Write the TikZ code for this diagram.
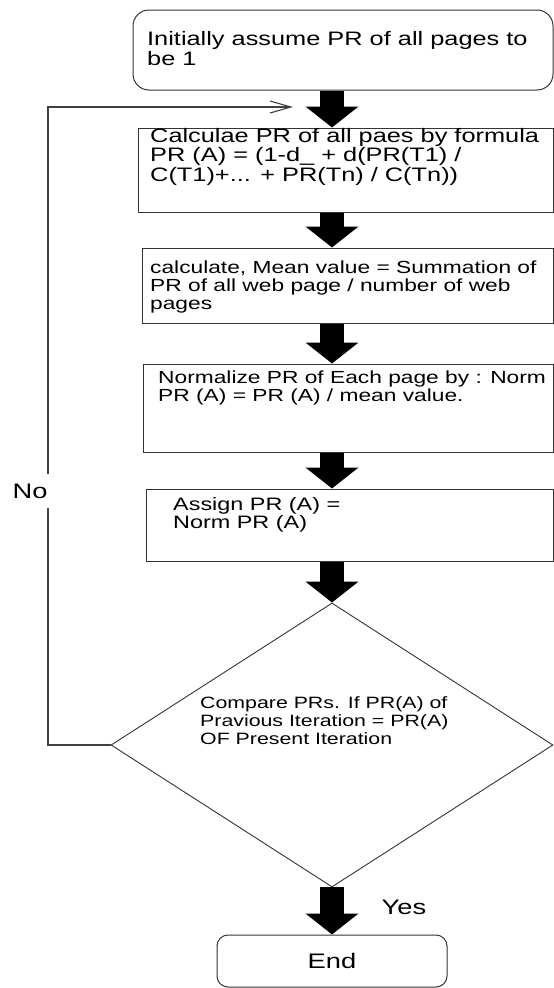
\documentclass[tikz,border=0pt]{standalone}
\usepackage{fontspec}
\setmainfont{Liberation Sans}[FakeStretch=1.3]
\usetikzlibrary{arrows.meta,shapes.geometric}

\tikzset{
	stepbox/.style={draw=black!80, line width=1pt, inner sep=0pt},
	startbox/.style={stepbox, rounded corners=16pt},
	decision/.style={diamond, draw=black!80, line width=0.9pt, inner sep=0pt, aspect=1.56},
	steptext/.style={anchor=base west, align=left, inner sep=0pt, text=black},
	lbl/.style={inner sep=0pt, text=black, font=\fontsize{21}{24}\selectfont},
	bigarrow/.style={black, line width=24pt, -{Triangle[width=52pt,length=21pt]}},
	loopline/.style={draw=black!75, line width=1.1pt, -{Straight Barb[length=21pt,width=12pt]}}
}

\begin{document}
\begin{tikzpicture}[x=1pt, y=-1pt]
			\useasboundingbox (0,0) rectangle (554,988);
			
			\node[startbox, minimum width=420pt, minimum height=80pt] (start) at (343,50) {};
			\node[stepbox, minimum width=415pt, minimum height=84pt] (calc) at (345.5,170) {};
			\node[stepbox, minimum width=411pt, minimum height=75pt] (mean) at (347.5,285.5) {};
			\node[stepbox, minimum width=410pt, minimum height=88pt] (norm) at (348,408) {};
			\node[stepbox, minimum width=407pt, minimum height=72pt] (assign) at (349.5,525) {};
			\node[decision, minimum width=442pt, minimum height=284pt] (cmp) at (332,745) {};
			\node[startbox, rounded corners=11pt, minimum width=230pt, minimum height=52pt, font=\fontsize{21}{24}\selectfont] (stop) at (332,961) {End};
			
			\node[steptext, font=\fontsize{19.5}{18}\selectfont] (starttxt) at (147,65) {Initially assume PR of all pages to\\be 1};
			\node[steptext, font=\fontsize{19.5}{17}\selectfont] (calctxt) at (150,181) {Calculae PR of all paes by formula\\PR (A) = (1-d\_ + d(PR(T1) /\\C(T1)+... + PR(Tn) / C(Tn))};
			\node[steptext, font=\fontsize{17.5}{18}\selectfont] (meantxt) at (150,309) {calculate, Mean value = Summation of\\PR of all web page / number of web\\pages};
			\node[steptext, font=\fontsize{17.5}{18}\selectfont] (normtxt) at (158,401) {Normalize PR of Each page by : Norm\\PR (A) = PR (A) / mean value.};
			\node[steptext, font=\fontsize{18}{18}\selectfont] (assigntxt) at (173,528) {Assign PR (A) =\\Norm PR (A)};
			\node[steptext, font=\fontsize{16.4}{18}\selectfont] (cmptxt) at (200,744) {Compare PRs. If PR(A) of\\Pravious Iteration = PR(A)\\OF Present Iteration};
			
			\coordinate (axis) at (332,0);
			\draw[bigarrow] (start.south -| axis) -- (calc.north -| axis);
			\draw[bigarrow] (calc.south -| axis) -- (mean.north -| axis);
			\draw[bigarrow] (mean.south -| axis) -- (norm.north -| axis);
			\draw[bigarrow] (norm.south -| axis) -- (assign.north -| axis);
			\draw[bigarrow] (assign.south -| axis) -- (cmp.north);
			\draw[bigarrow] (cmp.south) -- (stop.north);
			
			\coordinate (corner) at (48,745);
			\coordinate (back) at (293,107);
			\draw[loopline] (cmp.west) -- (corner) |- (back);
			
			\node[lbl, fill=white, inner xsep=4pt, inner ysep=10pt] (no) at (30,491) {No};
			\node[lbl] (yes) at (404,907) {Yes};
\end{tikzpicture}
\end{document}
